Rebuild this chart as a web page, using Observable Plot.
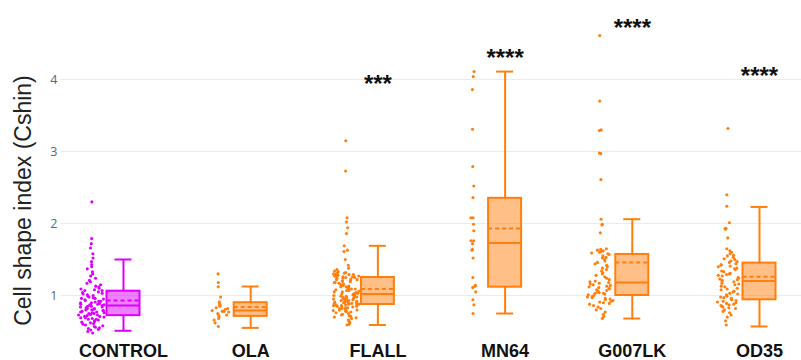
<!DOCTYPE html>
<html>
<head>
<meta charset="utf-8">
<script src="https://cdn.jsdelivr.net/npm/d3@7"></script>
<script src="https://cdn.jsdelivr.net/npm/@observablehq/plot@0.6"></script>
<style>
  html, body { margin: 0; padding: 0; background: #fff; }
  #chart svg { display: block; }
</style>
</head>
<body>
<div id="chart"></div>
<script>
// ---- Data ----
const groups = ["CONTROL", "OLA", "FLALL", "MN64", "G007LK", "OD35"];
const groupColors = ["#dd00ff", "#ff7f0e", "#ff7f0e", "#ff7f0e", "#ff7f0e", "#ff7f0e"];

const controlValues = [2.30, 1.79, 1.72, 1.66, 1.58, 1.52, 1.47, 1.43, 1.40, 1.37, 1.33, 1.30, 1.27, 1.24, 1.21, 1.19, 1.17, 1.15, 1.13, 1.12, 1.10, 1.09, 1.08, 1.07, 1.07,
  1.05, 1.04, 1.03, 1.02, 1.01, 1.00, 0.99, 0.98, 0.97, 0.96, 0.96, 0.95, 0.94, 0.93, 0.92, 0.92, 0.91, 0.90, 0.90, 0.89, 0.88, 0.88, 0.87, 0.87, 0.86,
  0.86, 0.85, 0.85, 0.84, 0.84, 0.83, 0.82, 0.82, 0.81, 0.80, 0.80, 0.79, 0.79, 0.78, 0.77, 0.77, 0.76, 0.76, 0.75, 0.75, 0.74, 0.74, 0.73, 0.73, 0.72,
  0.71, 0.71, 0.70, 0.69, 0.69, 0.68, 0.67, 0.67, 0.66, 0.65, 0.64, 0.63, 0.62, 0.61, 0.60, 0.59, 0.58, 0.57, 0.56, 0.55, 0.54, 0.53, 0.52, 0.50, 0.48];
const olaValues = [1.30, 1.18, 1.12, 0.98, 0.91, 0.89, 0.87, 0.86, 0.85, 0.83, 0.82, 0.81, 0.79, 0.78, 0.78, 0.77, 0.75, 0.73, 0.72, 0.70, 0.68, 0.66, 0.62, 0.57];
const flallValues = [3.15, 2.73, 2.08, 2.02, 1.94, 1.86, 1.69, 1.63, 1.61, 1.50, 1.42, 1.38, 1.36,
  1.34, 1.33, 1.32, 1.31, 1.31, 1.30, 1.30, 1.29, 1.29, 1.28, 1.28, 1.27, 1.27, 1.27, 1.26, 1.26, 1.26, 1.25, 1.25,
  1.24, 1.24, 1.23, 1.22, 1.22, 1.21, 1.20, 1.20, 1.19, 1.18, 1.18, 1.17, 1.16, 1.15, 1.15, 1.14, 1.13, 1.12, 1.12, 1.11, 1.10, 1.09, 1.09, 1.08, 1.07, 1.07, 1.06, 1.05, 1.05, 1.04, 1.03, 1.03, 1.02,
  1.02, 1.01, 1.01, 1.00, 1.00, 0.99, 0.99, 0.98, 0.98, 0.97, 0.97, 0.96, 0.96, 0.95, 0.95, 0.94, 0.94, 0.93, 0.93, 0.93, 0.92, 0.92, 0.91, 0.91, 0.90, 0.90, 0.90, 0.89, 0.89, 0.88, 0.88, 0.88, 0.87,
  0.87, 0.86, 0.86, 0.85, 0.85, 0.84, 0.84, 0.83, 0.83, 0.82, 0.82, 0.81, 0.80, 0.80, 0.79, 0.78, 0.78, 0.77, 0.76, 0.75, 0.74, 0.73, 0.72, 0.71, 0.70, 0.69, 0.68, 0.66, 0.64, 0.62, 0.60, 0.59];
const mn64Values = [4.11, 4.04, 3.86, 3.31, 2.79, 2.52, 2.36, 2.08, 2.08, 1.99, 1.90, 1.76, 1.76, 1.72, 1.64, 1.63, 1.52, 1.25, 1.14, 1.13, 1.11, 1.05, 0.94, 0.87, 0.75];
const g007lkValues = [4.61, 3.70, 3.30, 3.29, 2.98, 2.97, 2.61, 2.06, 1.99, 1.98, 1.87, 1.65, 1.64, 1.63, 1.62, 1.61, 1.60, 1.59, 1.58, 1.57,
  1.55, 1.53, 1.52, 1.50, 1.48, 1.46, 1.44, 1.42, 1.40, 1.38, 1.36, 1.34, 1.32, 1.30, 1.28, 1.26, 1.24, 1.22, 1.20, 1.19,
  1.18, 1.17, 1.16, 1.15, 1.14, 1.13, 1.12, 1.11, 1.10, 1.09, 1.08, 1.07, 1.06, 1.05, 1.04, 1.03, 1.03, 1.02, 1.01, 1.00,
  0.99, 0.98, 0.97, 0.96, 0.95, 0.94, 0.93, 0.92, 0.91, 0.90, 0.89, 0.88, 0.86, 0.84, 0.82, 0.80, 0.77, 0.74, 0.71, 0.68];
const od35Values = [3.32, 2.40, 2.24, 2.01, 1.93, 1.93, 1.92, 1.80, 1.65, 1.62, 1.60, 1.58, 1.56, 1.55, 1.53, 1.51, 1.50, 1.48, 1.47, 1.46,
  1.44, 1.43, 1.42, 1.41, 1.40, 1.38, 1.37, 1.36, 1.34, 1.33, 1.31, 1.30, 1.29, 1.28, 1.27, 1.25, 1.24, 1.23, 1.22, 1.21,
  1.20, 1.19, 1.17, 1.16, 1.15, 1.13, 1.12, 1.10, 1.09, 1.08, 1.06, 1.05, 1.03, 1.02, 1.01, 0.99, 0.98, 0.97, 0.96, 0.95,
  0.94, 0.93, 0.92, 0.91, 0.90, 0.89, 0.88, 0.87, 0.86, 0.85, 0.84, 0.83, 0.82, 0.80, 0.78, 0.76, 0.73, 0.70, 0.65, 0.59];

// Box statistics as drawn in the reference
const whiskerLow  = [0.51, 0.55, 0.59, 0.75, 0.68, 0.57];
const q1          = [0.72, 0.71, 0.875, 1.115, 1.00, 0.94];
const median      = [0.86, 0.79, 1.02, 1.73, 1.18, 1.20];
const mean        = [0.93, 0.84, 1.09, 1.93, 1.46, 1.26];
const q3          = [1.06, 0.90, 1.25, 2.35, 1.57, 1.45];
const whiskerHigh = [1.50, 1.125, 1.69, 4.11, 2.06, 2.23];

// Significance labels
const starGroups = ["FLALL", "MN64", "G007LK", "OD35"];
const starLabels = ["***", "****", "****", "****"];
const starY = [4.01, 4.375, 4.79, 4.125];

const yTicks = [1, 2, 3, 4];
const yTitle = "Cell shape index (Cshin)";

// ---- Build tables ----
const allValues = [controlValues, olaValues, flallValues, mn64Values, g007lkValues, od35Values];
const pxPerUnitX = (759 - 123) / 5;
const boxHalf = 16.5 / pxPerUnitX;
const capHalf = 8.5 / pxPerUnitX;
const pointOffset = -32 / pxPerUnitX;

// deterministic hash used only to spread points sideways (layout jitter)
const hash01 = (a, b) => { const s = Math.sin(a * 12.9898 + b * 78.233) * 43758.5453; return s - Math.floor(s); };

const points = [];
allValues.forEach((vals, gi) => {
  vals.forEach((v, k) => {
    const count = vals.filter(w => Math.abs(w - v) < 0.1).length;
    const half = 13 * Math.min(1, count / 18) / pxPerUnitX;
    const u = hash01(k + 1, gi + 1) * 2 - 1;
    points.push({g: gi, x: gi + pointOffset + u * half, y: v, color: groupColors[gi]});
  });
});

const boxes = groups.map((name, i) => ({
  i, name, color: groupColors[i],
  lo: whiskerLow[i], q1: q1[i], med: median[i], mean: mean[i], q3: q3[i], hi: whiskerHigh[i]
}));
const stars = starGroups.map((g, k) => ({i: groups.indexOf(g), y: starY[k], label: starLabels[k]}));

// ---- Plot ----
const marginTop = 16, marginBottom = 25;
const chart = Plot.plot({
  width: 801,
  height: 360,
  marginLeft: 60,
  marginRight: 0,
  marginTop,
  marginBottom,
  style: {fontFamily: "'Liberation Sans', Arial, sans-serif", background: "#fff", overflow: "visible"},
  x: {type: "linear", domain: [0, 5], range: [123, 759], axis: null},
  y: {domain: [(367 - (360 - marginBottom)) / 72, (367 - marginTop) / 72], axis: null},
  marks: [
    Plot.gridY(yTicks, {stroke: "#e6ecf5", strokeOpacity: 1, strokeWidth: 1}),
    Plot.axisY(yTicks, {tickSize: 0, tickPadding: 3, tickFormat: d3.format("d"), fill: "#506784", fontSize: 12.5, fontFamily: "'Open Sans', Arial, sans-serif", label: null}),
    Plot.axisX(d3.range(groups.length), {tickSize: 0, tickPadding: 9, tickFormat: i => groups[i], fontSize: 18, fontWeight: "bold", fill: "#111", label: null}),
    // points
    Plot.dot(points, {x: "x", y: "y", r: 1.55, fill: "color", stroke: null}),
    // whiskers
    Plot.ruleX(boxes, {x: "i", y1: "lo", y2: "q1", stroke: "color", strokeWidth: 2}),
    Plot.ruleX(boxes, {x: "i", y1: "q3", y2: "hi", stroke: "color", strokeWidth: 2}),
    Plot.ruleY(boxes, {y: "lo", x1: d => d.i - capHalf, x2: d => d.i + capHalf, stroke: "color", strokeWidth: 2}),
    Plot.ruleY(boxes, {y: "hi", x1: d => d.i - capHalf, x2: d => d.i + capHalf, stroke: "color", strokeWidth: 2}),
    // box
    Plot.rect(boxes, {x1: d => d.i - boxHalf, x2: d => d.i + boxHalf, y1: "q1", y2: "q3", fill: "color", fillOpacity: 0.5, stroke: "color", strokeWidth: 2}),
    Plot.ruleY(boxes, {y: "med", x1: d => d.i - boxHalf, x2: d => d.i + boxHalf, stroke: "color", strokeWidth: 2}),
    Plot.ruleY(boxes, {y: "mean", x1: d => d.i - boxHalf, x2: d => d.i + boxHalf, stroke: "color", strokeWidth: 2, strokeDasharray: "4,3"}),
    // significance stars
    Plot.text(stars, {x: "i", y: "y", text: "label", fontSize: 24, fontWeight: "bold", fill: "#111", dy: 6}),
    // y title
    Plot.text([yTitle], {text: d => d, frameAnchor: "left", textAnchor: "middle", lineAnchor: "middle", dx: -37, dy: 24.5, rotate: -90, fontSize: 23, fill: "#222"})
  ]
});
document.getElementById("chart").appendChild(chart);
</script>
</body>
</html>
